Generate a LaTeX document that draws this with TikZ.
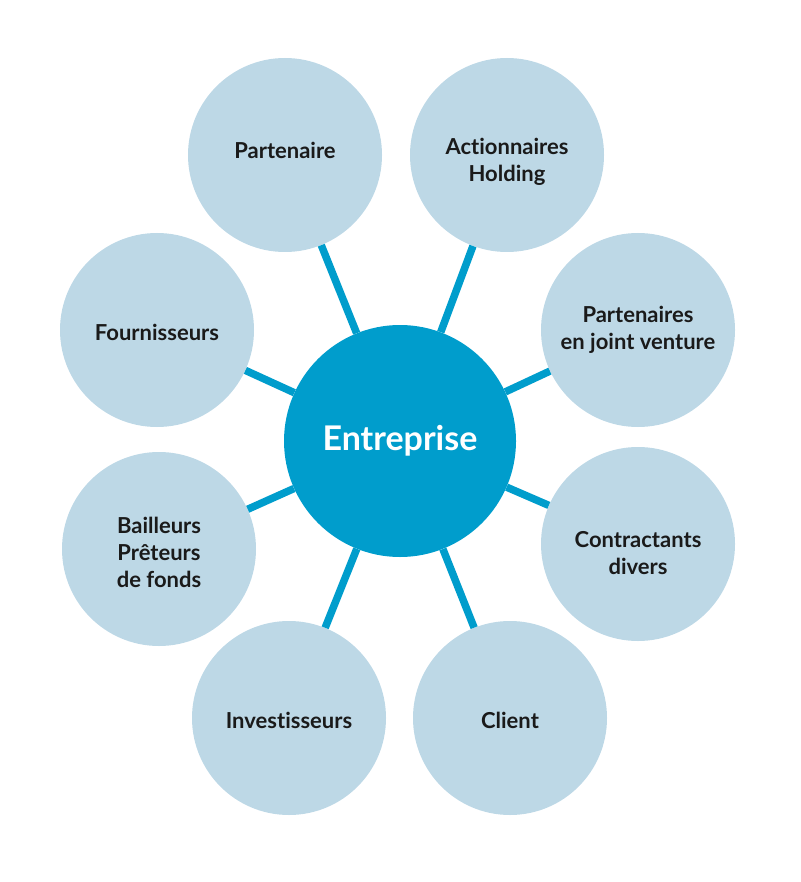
\documentclass[tikz,border=0pt]{standalone}
\usepackage{fontspec}
\setmainfont{Lato}[Ligatures=NoCommon]
\usetikzlibrary{positioning}
\definecolor{hubblue}{RGB}{0,157,204}
\definecolor{partyblue}{RGB}{189,216,230}
\definecolor{darktext}{RGB}{26,26,26}

\begin{document}
\begin{tikzpicture}[
    x=1pt, y=-1pt,
    hub/.style={circle, fill=hubblue, minimum size=232pt, inner sep=0pt,
                font=\bfseries\fontsize{34}{40}\selectfont, text=white},
    party/.style={circle, fill=partyblue, minimum size=194pt, inner sep=0pt},
    caption/.style={font=\bfseries\fontsize{22}{27}\selectfont,
                    text=darktext, align=center},
    link/.style={line width=7.5pt, draw=hubblue}
]
\useasboundingbox (0,0) rectangle (800,882);

% Centre
\node[hub] (entreprise) at (400,441) {Entreprise};

% Stakeholders
\node[party, label={[caption, name=partenaire-t, yshift=5pt]center:Partenaire}]
  (partenaire) at (285,155) {};
\node[party, label={[caption, name=actionnaires-t, yshift=-7pt]center:Actionnaires\\Holding}]
  (actionnaires) at (507,155) {};
\node[party, label={[caption, name=jointventure-t]center:Partenaires\\en joint venture}]
  (jointventure) at (638,330) {};
\node[party, label={[caption, name=contractants-t, yshift=-9pt]center:Contractants\\divers}]
  (contractants) at (638,544) {};
\node[party, label={[caption, name=client-t, yshift=-2pt]center:Client}]
  (client) at (510,718) {};
\node[party, label={[caption, name=investisseurs-t, yshift=-2pt]center:Investisseurs}]
  (investisseurs) at (289,718) {};
\node[party, label={[caption, name=bailleurs-t, yshift=-3pt]center:Bailleurs\\Prêteurs\\de fonds}]
  (bailleurs) at (159,549) {};
\node[party, label={[caption, name=fournisseurs-t, yshift=-2pt]center:Fournisseurs}]
  (fournisseurs) at (157,330) {};

% Links
\foreach \p in {partenaire,actionnaires,jointventure,contractants,
                client,investisseurs,bailleurs,fournisseurs}
  \draw[link] (entreprise) -- (\p);

\end{tikzpicture}
\end{document}
